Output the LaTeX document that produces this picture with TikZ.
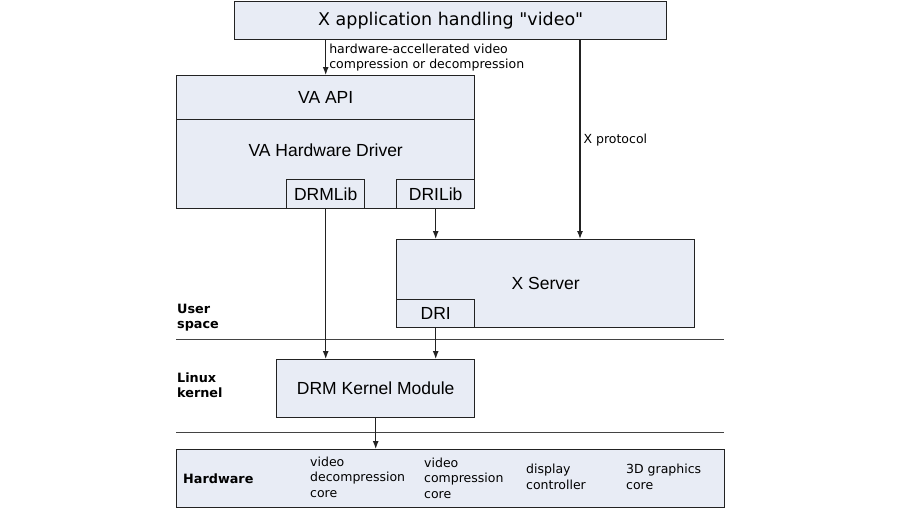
\documentclass[tikz,border=0pt]{standalone}
\usepackage{fontspec}
\setmainfont{Liberation Sans}
\newfontfamily\dejavu{DejaVu Sans}
\usetikzlibrary{arrows.meta}
\definecolor{boxfill}{RGB}{232,236,245}
\definecolor{boxline}{RGB}{34,34,34}

\begin{document}
\begin{tikzpicture}
  [x=1pt, y=-1pt,
  boxtext/.style={font=\fontsize{17.5}{21}\selectfont},
  block/.style={rectangle, draw=boxline, fill=boxfill, line width=1.4pt,
  anchor=north west, inner sep=0pt, boxtext},
  note/.style={anchor=west, align=left, inner sep=0pt,
  font=\dejavu\fontsize{12.5}{15.5}\selectfont},
  layer/.style={anchor=west, align=left, inner sep=0pt,
  font=\dejavu\bfseries\fontsize{12.8}{15}\selectfont},
  line/.style={draw=boxline, line width=1.2pt, -{Latex[length=8pt,width=6pt]}},
  sep/.style={draw=boxline!85, line width=1pt}]

  \useasboundingbox[fill=white] (0,0) rectangle (900,520);

  % application and user space
  \node [block, minimum width=432, minimum height=38,
    font=\dejavu\fontsize{17.5}{21}\selectfont] (app) at (234,1)
    {X application handling "video"};
  \node [block, minimum width=298, minimum height=44] (vaapi) at (176,75) {VA API};
  \node [block, minimum width=298, minimum height=89,
    label={[boxtext, anchor=center, yshift=-31pt]north:VA Hardware Driver}]
    (vadrv) at (176,119) {};
  \node [block, minimum width=78, minimum height=29] (drmlib) at (286,179) {DRMLib};
  \node [block, minimum width=78, minimum height=29] (drilib) at (396,179) {DRILib};
  \node [block, minimum width=298, minimum height=88] (xserver) at (396,239) {X Server};
  \node [block, minimum width=78, minimum height=28] (dri) at (396,299) {DRI};

  % kernel and hardware
  \node [block, minimum width=198, minimum height=58] (drm) at (276,359) {DRM Kernel Module};
  \node [block, minimum width=548, minimum height=58] (hw) at (176,449) {};

  \node [layer] (user) at (177,318) {User\\space};
  \node [layer] (kernel) at (177,385.5) {Linux\\kernel};
  \node [layer] (hwname) at (183,479) {Hardware};
  \node [note] (vdec) at (310,477) {video\\decompression\\core};
  \node [note] (venc) at (424,478) {video\\compression\\core};
  \node [note] (disp) at (526,477) {display\\controller};
  \node [note] (gfx) at (626,477) {3D graphics\\core};

  \draw [sep] (176,339) -- (724,339);
  \draw [sep] (176,432) -- (724,432);

  \coordinate (xp) at (580,0);
  \path [line] (app.south -| drmlib) -- node [note, xshift=3pt]
    {hardware-accellerated video\\compression or decompression} (vaapi.north -| drmlib);
  \path [line] (app.south -| xp) -- node [note, xshift=3pt] {X protocol} (xserver.north -| xp);
  \path [line] (drilib.south) -- (xserver.north -| drilib.south);
  \path [line] (drmlib.south) -- (drm.north -| drmlib.south);
  \path [line] (dri.south) -- (drm.north -| dri.south);
  \path [line] (drm.south) -- (hw.north -| drm.south);
\end{tikzpicture}
\end{document}
